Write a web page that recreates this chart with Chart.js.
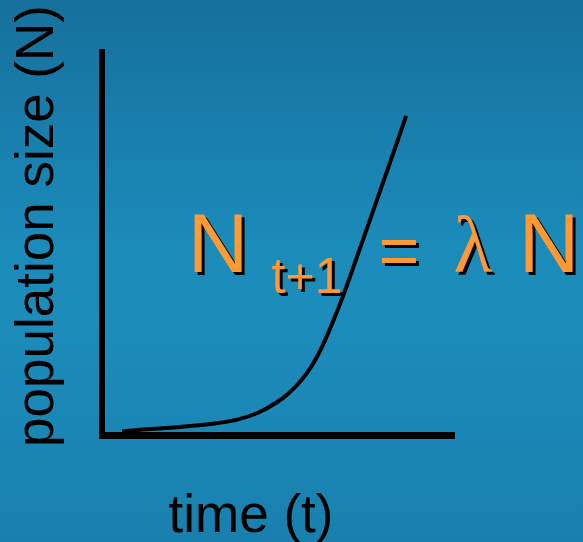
<!DOCTYPE html>
<html>
<head>
<meta charset="utf-8">
<script src="https://cdn.jsdelivr.net/npm/chart.js@4"></script>
<style>
  html, body { margin: 0; padding: 0; background: #1b86b4; }
  #wrap { width: 583px; height: 542px; }
</style>
</head>
<body>
<div id="wrap"><canvas id="growth"></canvas></div>
<script>
// Exponential growth curve — time (x) vs population size (y)
const timeVals = [0.57, 1.16, 2.13, 3.07, 3.84, 4.40, 4.97, 5.28, 5.68, 5.97, 6.25, 6.53, 6.82, 7.41, 8.04, 8.64];
const popVals  = [0.91, 1.44, 2.01, 2.85, 4.00, 5.67, 8.54, 10.7, 14.5, 18.2, 23.0, 28.9, 35.6, 50.9, 67.4, 83.3];

const xTitle = 'time (t)';
const yTitle = 'population size (N)';

// slide-style gradient behind everything
const bgPlugin = {
  id: 'bg',
  beforeDraw(chart) {
    const { ctx, width, height } = chart;
    const g = ctx.createLinearGradient(0, 0, 0, height);
    g.addColorStop(0, '#16709c');
    g.addColorStop(0.45, '#1b8bba');
    g.addColorStop(0.6, '#1c8cbb');
    g.addColorStop(1, '#1980ae');
    ctx.save();
    ctx.fillStyle = g;
    ctx.fillRect(0, 0, width, height);
    ctx.restore();
  }
};

// axis titles + the orange equation
const textPlugin = {
  id: 'texts',
  afterDraw(chart) {
    const { ctx } = chart;
    ctx.save();
    ctx.fillStyle = '#000';
    ctx.font = "53px 'Liberation Sans', Arial, sans-serif";
    ctx.textAlign = 'center';
    ctx.textBaseline = 'alphabetic';
    ctx.fillText(xTitle, 251, 532);

    ctx.translate(53, 226);
    ctx.rotate(-Math.PI / 2);
    ctx.fillText(yTitle, 0, 0);
    ctx.restore();

    ctx.save();
    ctx.shadowColor = '#000';
    ctx.shadowOffsetX = 3;
    ctx.shadowOffsetY = 3;
    ctx.shadowBlur = 0;
    ctx.fillStyle = '#ff9933';
    ctx.textAlign = 'center';
    ctx.textBaseline = 'alphabetic';
    ctx.font = "84px 'Liberation Sans', Arial, sans-serif";
    ctx.fillText('N', 218, 272);
    ctx.fillText('N', 549, 272);
    ctx.font = "50px 'Liberation Sans', Arial, sans-serif";
    ctx.fillText('t+1', 307, 293);
    ctx.font = "70px 'Liberation Sans', Arial, sans-serif";
    ctx.fillText('=', 399, 275);
    ctx.font = "80px 'Liberation Serif', 'Times New Roman', serif";
    ctx.fillText('λ', 473, 272);
    ctx.restore();
  }
};

new Chart(document.getElementById('growth').getContext('2d'), {
  type: 'line',
  data: {
    datasets: [{
      data: timeVals.map((t, i) => ({ x: t, y: popVals[i] })),
      borderColor: '#000',
      borderWidth: 4,
      pointRadius: 0,
      fill: false,
      cubicInterpolationMode: 'monotone'
    }]
  },
  options: {
    responsive: true,
    maintainAspectRatio: false,
    animation: false,
    events: [],
    layout: { padding: { left: 102, top: 52, right: 129, bottom: 107 } },
    plugins: { legend: { display: false }, tooltip: { enabled: false } },
    scales: {
      x: {
        type: 'linear', min: 0, max: 10,
        grid: { display: false, drawTicks: false },
        ticks: { display: false },
        border: { display: true, color: '#000', width: 7 }
      },
      y: {
        type: 'linear', min: 0, max: 100,
        grid: { display: false, drawTicks: false },
        ticks: { display: false },
        border: { display: true, color: '#000', width: 6 }
      }
    }
  },
  plugins: [bgPlugin, textPlugin]
});
</script>
</body>
</html>
